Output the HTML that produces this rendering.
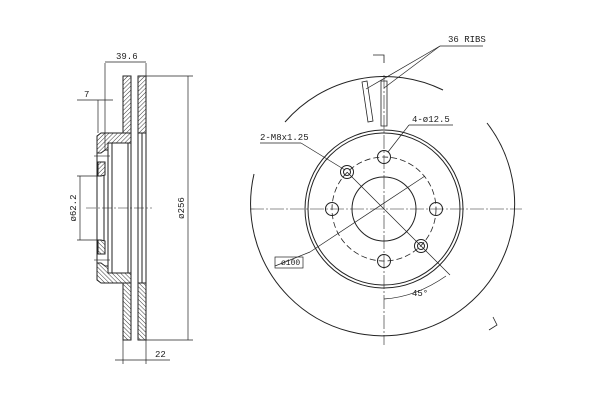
<!DOCTYPE html>
<html><head><meta charset="utf-8"><style>
html,body{margin:0;padding:0;background:#fff;}
svg{display:block;}
text{font-family:"Liberation Mono",monospace;font-size:9px;fill:#222;}
</style></head><body>
<svg width="600" height="400" viewBox="0 0 600 400" xmlns="http://www.w3.org/2000/svg">
<defs>
<pattern id="h" width="3" height="3" patternUnits="userSpaceOnUse" patternTransform="rotate(45)">
<line x1="0" y1="0" x2="0" y2="3" stroke="#222" stroke-width="0.9"/>
</pattern>
</defs>
<g stroke="#222" fill="none" stroke-width="1">
<g id="half">
<path d="M123,76 H131 V133 H123 Z" fill="url(#h)"/>
<path d="M138,76 H146 V133 H138 Z" fill="url(#h)"/>
<path d="M97,136 L101,133 H123 V133 L131,133 V143 H108 V150 H105 L101,153 H97 Z" fill="url(#h)"/>
<path d="M98,162 H105 V175 L101,176 H98 Z" fill="url(#h)"/>
</g>
<use href="#half" transform="translate(0,416) scale(1,-1)"/>
<line x1="138" y1="133" x2="138" y2="283"/>
<line x1="146" y1="133" x2="146" y2="283"/>
<line x1="142" y1="133" x2="142" y2="283"/>
<line x1="131" y1="143" x2="131" y2="273"/>
<line x1="128" y1="143" x2="128" y2="273"/>
<line x1="108" y1="143" x2="108" y2="273"/>
<line x1="112" y1="143" x2="112" y2="273"/>
<line x1="104" y1="175" x2="104" y2="241"/>
<line x1="97" y1="153" x2="97" y2="263"/>
<line x1="86" y1="208" x2="152" y2="208" stroke-dasharray="10 2 2 2" stroke-width="0.6"/>
<line x1="94" y1="156" x2="110" y2="156" stroke-width="0.6"/>
<line x1="94" y1="260" x2="110" y2="260" stroke-width="0.6"/>
<line x1="105" y1="63" x2="105" y2="150" stroke-width="0.7"/>
<line x1="146" y1="63" x2="146" y2="76" stroke-width="0.7"/>
<line x1="105" y1="62" x2="146" y2="62" stroke-width="0.7"/>
<line x1="98" y1="100" x2="98" y2="133" stroke-width="0.7"/>
<line x1="77" y1="100" x2="113" y2="100" stroke-width="0.7"/>
<line x1="77" y1="176" x2="97" y2="176" stroke-width="0.7"/>
<line x1="77" y1="240" x2="97" y2="240" stroke-width="0.7"/>
<line x1="80" y1="176" x2="80" y2="240" stroke-width="0.7"/>
<line x1="146" y1="76" x2="193" y2="76" stroke-width="0.7"/>
<line x1="146" y1="340" x2="193" y2="340" stroke-width="0.7"/>
<line x1="188" y1="76" x2="188" y2="340" stroke-width="0.7"/>
<line x1="123" y1="340" x2="123" y2="364" stroke-width="0.7"/>
<line x1="146" y1="340" x2="146" y2="364" stroke-width="0.7"/>
<line x1="115" y1="360" x2="170" y2="360" stroke-width="0.7"/>

<path d="M285,122 A132,132 0 0 1 443,90" />
<path d="M487,123 A132,132 0 1 1 254,174" />
<circle cx="384" cy="209" r="79"/>
<circle cx="384" cy="209" r="76"/>
<circle cx="384" cy="209" r="52" stroke-dasharray="6 3" stroke-width="0.8"/>
<circle cx="384" cy="209" r="32"/>
<circle cx="384" cy="157" r="6.5"/>
<circle cx="384" cy="261" r="6.5"/>
<circle cx="332" cy="209" r="6.5"/>
<circle cx="436" cy="209" r="6.5"/>
<circle cx="347" cy="172" r="6.5"/><circle cx="347" cy="172" r="3.5"/>
<circle cx="421" cy="246" r="6.5"/><circle cx="421" cy="246" r="3.5"/>
<line x1="250" y1="209" x2="522" y2="209" stroke-dasharray="14 2 2 2" stroke-width="0.6"/>
<line x1="384" y1="75" x2="384" y2="345" stroke-dasharray="14 2 2 2" stroke-width="0.6"/>
<line x1="347" y1="172" x2="450" y2="275" stroke-width="0.7"/>
<line x1="310" y1="252" x2="425" y2="176" stroke-width="0.7"/>
<line x1="310" y1="252" x2="275" y2="266" stroke-width="0.7"/>
<rect x="275" y="257" width="28" height="11" stroke-width="0.7"/>
<path d="M362,82 L367,81 L373,121 L368,122 Z" stroke-width="0.8"/>
<path d="M381,81 H387 V126 H381 Z" stroke-width="0.8"/>
<line x1="366" y1="89" x2="440" y2="46" stroke-width="0.7"/>
<line x1="384" y1="88" x2="440" y2="46" stroke-width="0.7"/>
<line x1="440" y1="46" x2="483" y2="46" stroke-width="0.7"/>
<path d="M373,55 H384 V63" stroke-width="0.8"/>
<path d="M493,317 L497,325 L489,330" stroke-width="0.8"/>
<line x1="345" y1="170" x2="301" y2="143" stroke-width="0.7"/>
<line x1="301" y1="143" x2="260" y2="143" stroke-width="0.7"/>
<line x1="388" y1="152" x2="409" y2="125" stroke-width="0.7"/>
<line x1="409" y1="125" x2="453" y2="125" stroke-width="0.7"/>
<path d="M384,299 Q416,297 446,276" stroke-width="0.7"/>
</g>
<text x="116" y="59">39.6</text>
<text x="84" y="97">7</text>
<text x="76" y="208" transform="rotate(-90 76 208)" text-anchor="middle">ø62.2</text>
<text x="184" y="208" transform="rotate(-90 184 208)" text-anchor="middle">ø256</text>
<text x="155" y="357">22</text>
<text x="448" y="42">36 RIBS</text>
<text x="260" y="140">2-M8x1.25</text>
<text x="412" y="122">4-ø12.5</text>
<text x="281" y="265" style="font-size:8px">ø100</text>
<text x="412" y="296">45°</text>
</svg>
</body></html>
